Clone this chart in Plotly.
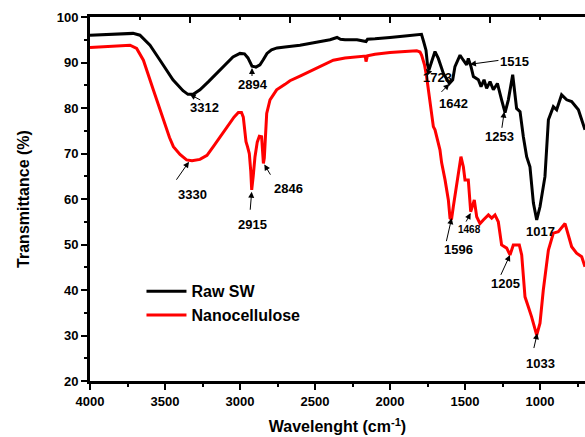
import plotly.graph_objects as go

# ---- data ----
wn_raw = [4000, 3850, 3713, 3667, 3600, 3533, 3447, 3380, 3347, 3312, 3267, 3210, 3153, 3100,
          3047, 3000, 2970, 2947, 2920, 2894, 2867, 2845, 2820, 2790, 2753, 2700, 2600, 2500,
          2400, 2353, 2330, 2300, 2220, 2160, 2150, 2100, 2050, 2000, 1900, 1800, 1790, 1775,
          1760, 1750, 1740, 1722, 1700, 1678, 1644, 1604, 1582, 1567, 1533, 1511, 1489, 1478,
          1460, 1444, 1411, 1393, 1373, 1356, 1333, 1311, 1284, 1256, 1233, 1211, 1182, 1156,
          1133, 1111, 1089, 1067, 1044, 1022, 1000, 967, 944, 911, 889, 856, 822, 789, 744, 700]
t_raw = [96.0, 96.2, 96.4, 96.0, 93.8, 90.5, 86.2, 83.8, 83.0, 83.0, 84.0, 85.8, 87.7, 89.6,
         91.2, 92.0, 91.9, 91.0, 89.2, 89.0, 89.5, 90.6, 92.0, 92.8, 93.2, 93.4, 93.8, 94.4,
         95.0, 95.5, 95.1, 95.0, 95.0, 94.6, 95.1, 95.2, 95.3, 95.5, 95.8, 96.2, 96.2, 94.5,
         92.7, 89.5, 88.4, 90.2, 92.4, 90.9, 87.6, 85.4, 86.2, 89.1, 91.6, 90.5, 89.5, 90.9,
         89.1, 86.9, 86.2, 84.7, 86.2, 84.3, 85.8, 84.0, 85.4, 81.8, 79.0, 81.8, 87.3, 79.9,
         79.2, 73.7, 69.3, 67.1, 59.1, 55.4, 58.3, 64.9, 77.4, 80.3, 79.6, 82.9, 81.8, 81.4, 79.6, 75.2]

wn_nano = [4000, 3850, 3733, 3689, 3644, 3578, 3511, 3470, 3444, 3400, 3356, 3320, 3267, 3220,
           3178, 3133, 3089, 3040, 3011, 2990, 2978, 2960, 2950, 2938, 2928, 2922, 2912, 2900,
           2885, 2871, 2856, 2850, 2844, 2838, 2833, 2822, 2800, 2756, 2700, 2667, 2600, 2500,
           2378, 2300, 2222, 2165, 2160, 2150, 2100, 2000, 1900, 1822, 1800, 1789, 1770, 1756,
           1711, 1700, 1667, 1656, 1633, 1611, 1600, 1590, 1578, 1544, 1527, 1511, 1500, 1478,
           1462, 1450, 1438, 1422, 1400, 1378, 1344, 1322, 1300, 1278, 1256, 1222, 1200, 1178,
           1138, 1122, 1100, 1078, 1056, 1022, 1000, 978, 944, 911, 878, 833, 789, 756, 722, 700]
t_nano = [93.3, 93.6, 93.8, 93.1, 90.5, 84.0, 77.4, 73.5, 71.5, 69.8, 68.6, 68.4, 68.7, 69.6,
          71.5, 73.6, 75.8, 78.0, 79.0, 79.0, 78.0, 72.6, 71.5, 70.0, 66.0, 62.0, 65.0, 69.3,
          72.5, 73.8, 73.7, 71.0, 67.8, 69.0, 73.0, 78.8, 81.8, 84.0, 85.2, 86.0, 87.0, 88.6,
          90.5, 91.0, 91.3, 91.4, 90.2, 91.5, 91.8, 92.2, 92.4, 92.6, 92.3, 91.6, 89.5, 86.9,
          75.9, 75.2, 70.8, 68.0, 64.2, 59.8, 55.8, 55.5, 58.3, 65.6, 69.3, 67.1, 64.2, 64.2,
          57.2, 58.5, 59.8, 56.1, 54.6, 55.4, 56.5, 55.8, 56.5, 55.0, 49.9, 49.2, 47.7, 49.9,
          49.9, 47.7, 38.5, 36.3, 34.1, 30.1, 32.7, 40.0, 48.8, 52.5, 52.8, 54.6, 49.5, 48.1, 47.3, 45.1]

# peak labels: text, text x, text y, arrow tail x, tail y, arrow head x, head y
labels = ["3312", "2894", "3330", "2915", "2846", "1723", "1642", "1515", "1253",
          "1017", "1596", "1468", "1205", "1033"]
label_x = [3240, 2913, 3320, 2920, 2678, 1685, 1578, 1167, 1271, 1000, 1544, 1471, 1233, 1000]
label_y = [80.2, 85.1, 61.1, 54.3, 62.3, 86.8, 80.9, 90.3, 73.7, 52.8, 49.0, 53.2, 41.5, 23.9]
tail_x = [3255, 2920, 3433, 2933, 2789, 1735, 1667, 1267, 1256, None, 1627, 1500, 1267, 1044]
tail_y = [81.6, 86.6, 63.8, 57.2, 64.9, 87.6, 83.2, 90.5, 75.2, None, 50.3, 54.6, 42.9, 26.8]
head_x = [3335, 2920, 3340, 2922, 2838, 1760, 1604, 1467, 1238, None, 1589, 1462, 1200, 1018]
head_y = [83.0, 88.8, 68.2, 61.6, 67.6, 88.6, 85.3, 89.6, 79.2, None, 55.8, 56.9, 47.7, 30.5]
label_size = [13, 13, 13, 13, 13, 13, 13, 13, 13, 13, 13, 10, 13, 13]

x_ticks = [4000, 3500, 3000, 2500, 2000, 1500, 1000]
y_ticks = [20, 30, 40, 50, 60, 70, 80, 90, 100]

FONT = "Liberation Sans, Arial, sans-serif"

fig = go.Figure()
fig.add_trace(go.Scatter(x=wn_raw, y=t_raw, mode="lines", name="Raw SW",
                         line=dict(color="black", width=3)))
fig.add_trace(go.Scatter(x=wn_nano, y=t_nano, mode="lines", name="Nanocellulose",
                         line=dict(color="#ff0000", width=3)))
# invisible trace to carry the top axis
fig.add_trace(go.Scatter(x=[4000, 700], y=[None, None], xaxis="x2", showlegend=False,
                         hoverinfo="skip"))

annotations = []
for i, txt in enumerate(labels):
    annotations.append(dict(x=label_x[i], y=label_y[i], xref="x", yref="y", text=txt,
                            showarrow=False,
                            font=dict(family=FONT, size=label_size[i], color="black",
                                      weight="bold")))
    if tail_x[i] is not None:
        annotations.append(dict(x=head_x[i], y=head_y[i], xref="x", yref="y",
                                ax=tail_x[i], ay=tail_y[i], axref="x", ayref="y",
                                text=" ", showarrow=True, arrowhead=2, arrowsize=1.2,
                                arrowwidth=1, arrowcolor="black", standoff=0,
                                startstandoff=0, font=dict(size=1)))

fig.update_layout(
    width=585, height=437,
    margin=dict(l=90, r=0, t=17, b=56, autoexpand=False),
    paper_bgcolor="white", plot_bgcolor="white",
    font=dict(family=FONT, color="black", weight="bold"),
    showlegend=True,
    legend=dict(x=0.104, y=0.293, xanchor="left", yanchor="top",
                bgcolor="rgba(0,0,0,0)", font=dict(size=16, family=FONT, weight="bold"),
                tracegroupgap=0, itemwidth=40),
    annotations=annotations,
    xaxis=dict(range=[4000, 700], tickvals=x_ticks, ticktext=[str(v) for v in x_ticks],
               showline=True, linecolor="black", linewidth=3, ticks="outside",
               ticklen=6, tickwidth=2, tickcolor="black", automargin=False,
               minor=dict(dtick=250, tick0=0, ticks="outside", ticklen=3, tickwidth=2,
                          tickcolor="black"),
               showgrid=False, zeroline=False,
               tickfont=dict(size=13, family=FONT, weight="bold"),
               title=dict(text="Wavelenght (cm<sup>-1</sup>)", standoff=14,
                          font=dict(size=16, family=FONT, weight="bold"))),
    xaxis2=dict(range=[4000, 700], overlaying="x", side="top", showline=True,
                linecolor="black", linewidth=3, ticks="inside", tickmode="linear",
                tick0=2000, dtick=2000 / 3, ticklen=6, tickwidth=2, tickcolor="black",
                automargin=False,
                minor=dict(dtick=1000 / 3, tick0=2000, ticks="inside", ticklen=3,
                           tickwidth=2, tickcolor="black"),
                showticklabels=False, showgrid=False, zeroline=False),
    yaxis=dict(range=[20, 100], tickvals=y_ticks, showline=True, linecolor="black",
               linewidth=3, ticks="outside", ticklen=6, tickwidth=2, tickcolor="black",
               automargin=False,
               minor=dict(dtick=5, ticks="outside", ticklen=3, tickwidth=2,
                          tickcolor="black"),
               showgrid=False, zeroline=False,
               tickfont=dict(size=13, family=FONT, weight="bold"),
               title=dict(text="Transmittance (%)", standoff=24,
                          font=dict(size=16, family=FONT, weight="bold"))),
)

fig.write_html("out.html", config={"displayModeBar": False},
               post_script="document.body.style.margin='0';document.body.style.padding='0';")
